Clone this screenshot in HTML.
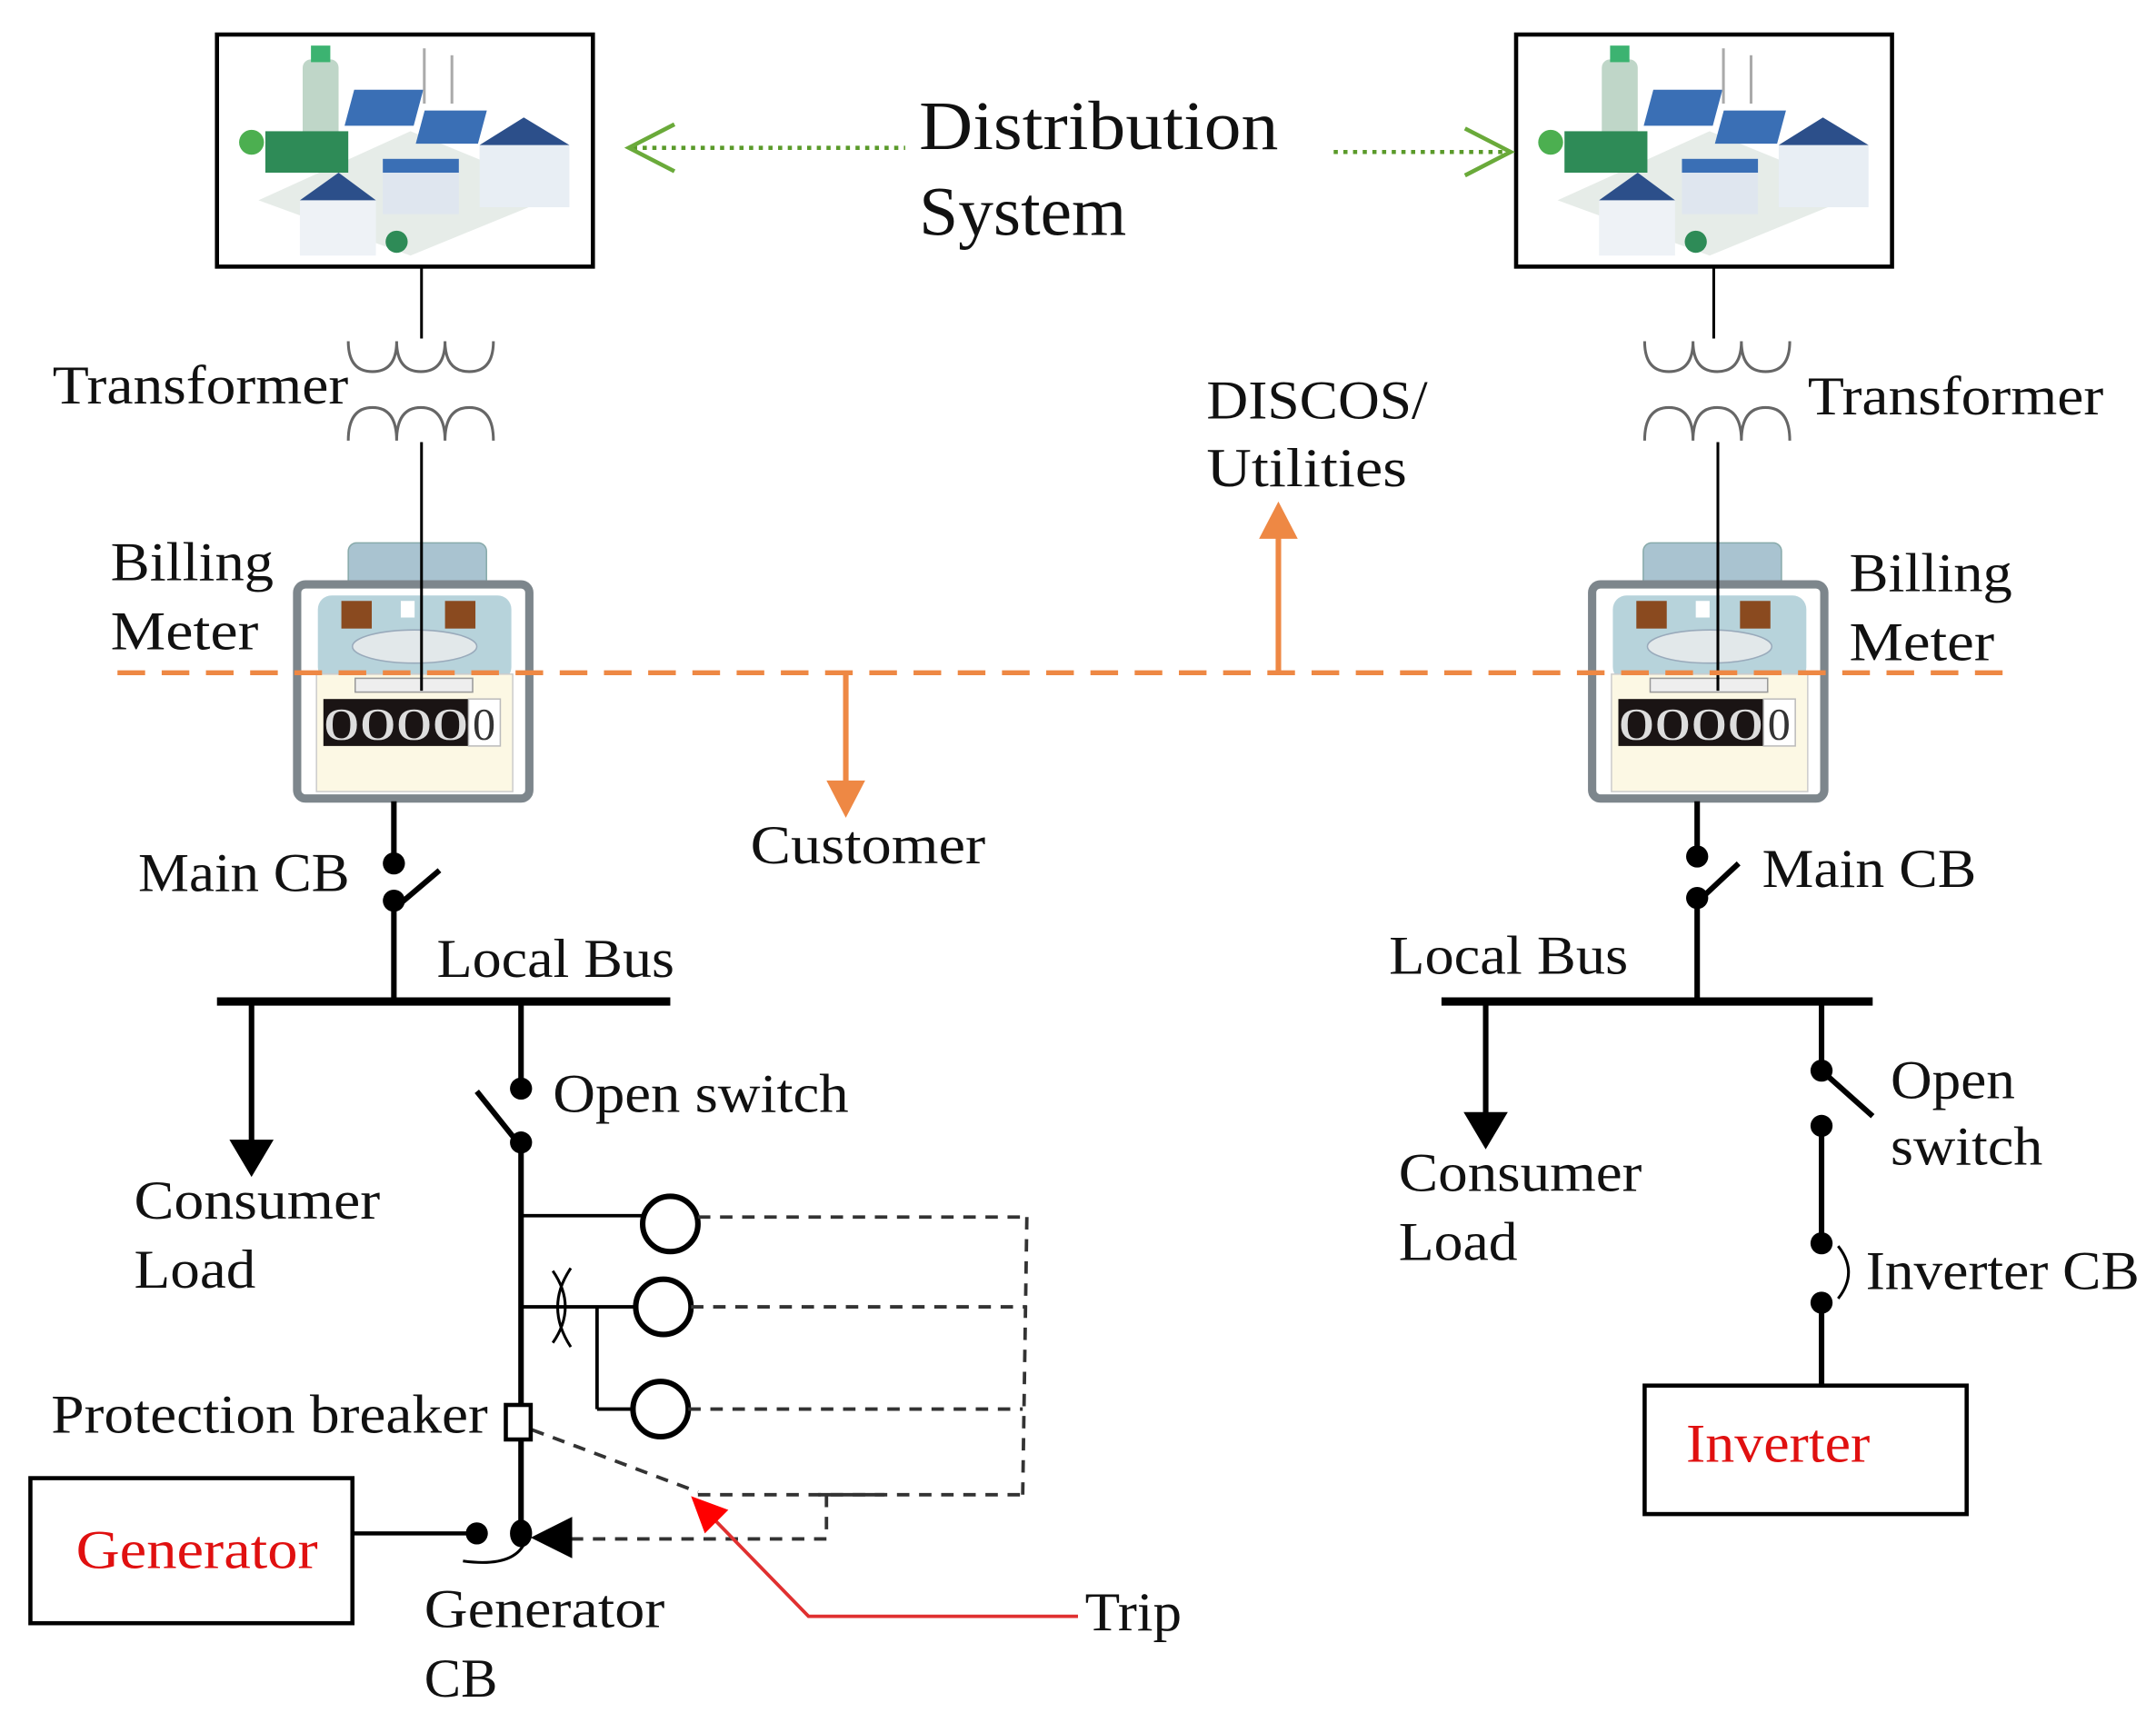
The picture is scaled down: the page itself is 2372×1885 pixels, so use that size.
<!DOCTYPE html>
<html><head><meta charset="utf-8"><style>
html,body{margin:0;padding:0;background:#fff}
svg{display:block}
text{font-family:"Liberation Serif",serif;fill:#111}
</style></head><body>
<svg width="2372" height="1885" viewBox="0 0 1560 1240" preserveAspectRatio="none" xmlns="http://www.w3.org/2000/svg">
<defs>
<g id="pic">
  <rect x="0" y="0" width="272" height="168" fill="#fff" stroke="#000" stroke-width="3"/>
  <path d="M30 120 L140 70 L250 115 L140 160 Z" fill="#e6ece8"/>
  <rect x="62" y="18" width="26" height="60" rx="6" fill="#bfd6c8"/>
  <rect x="68" y="8" width="14" height="12" fill="#3cb371"/>
  <rect x="35" y="70" width="60" height="30" fill="#2e8b57"/>
  <rect x="110" y="40" width="50" height="26" fill="#3a6fb5" transform="skewX(-15)"/>
  <rect x="165" y="55" width="45" height="24" fill="#3a6fb5" transform="skewX(-15)"/>
  <rect x="120" y="90" width="55" height="40" fill="#dfe6ef"/>
  <rect x="120" y="90" width="55" height="10" fill="#3a6fb5"/>
  <rect x="190" y="80" width="65" height="45" fill="#e8eef4"/>
  <path d="M190 80 L222 60 L255 80 Z" fill="#2c4f8a"/>
  <rect x="60" y="120" width="55" height="40" fill="#eef2f6"/>
  <path d="M60 120 L88 100 L115 120 Z" fill="#2c4f8a"/>
  <circle cx="25" cy="78" r="9" fill="#4caf50"/>
  <circle cx="130" cy="150" r="8" fill="#2e8b57"/>
  <line x1="150" y1="10" x2="150" y2="50" stroke="#aaa" stroke-width="2"/>
  <line x1="170" y1="15" x2="170" y2="50" stroke="#aaa" stroke-width="2"/>
</g>
<g id="meter">
  <rect x="40" y="0" width="100" height="45" rx="6" fill="#a9c3d0" stroke="#8aa" stroke-width="1"/>
  <rect x="3" y="30" width="168" height="155" rx="6" fill="#fff" stroke="#7d868c" stroke-width="6"/>
  <rect x="18" y="38" width="140" height="62" rx="10" fill="#b7d3db"/>
  <rect x="35" y="42" width="22" height="20" fill="#8a4a1f"/>
  <rect x="110" y="42" width="22" height="20" fill="#8a4a1f"/>
  <rect x="78" y="42" width="10" height="12" fill="#fff"/>
  <ellipse cx="88" cy="75" rx="45" ry="12" fill="#e2e8ea" stroke="#9ab"/>
  <rect x="17" y="95" width="142" height="85" fill="#fcf8e4" stroke="#ccc"/>
  <rect x="45" y="98" width="85" height="10" fill="#eee" stroke="#999"/>
  <rect x="22" y="113" width="105" height="34" fill="#1a1414"/>
  <rect x="127" y="113" width="23" height="34" fill="#fff" stroke="#bbb"/>
  <text x="22" y="142" font-size="33" font-family="Liberation Sans,sans-serif" style="fill:#ddd" textLength="105" lengthAdjust="spacingAndGlyphs">0000</text>
  <text x="130" y="142" font-size="33" font-family="Liberation Sans,sans-serif" style="fill:#333">0</text>
</g>
<g id="coil">
  <path d="M0 0 q0 22 17.5 22 q17.5 0 17.5 -22 q0 22 17.5 22 q17.5 0 17.5 -22 q0 22 17.5 22 q17.5 0 17.5 -22" fill="none" stroke="#666" stroke-width="2"/>
  <path d="M0 72 q0 -24 17.5 -24 q17.5 0 17.5 24 q0 -24 17.5 -24 q17.5 0 17.5 24 q0 -24 17.5 -24 q17.5 0 17.5 24" fill="none" stroke="#666" stroke-width="2"/>
</g>
</defs>

<use href="#pic" x="157" y="25"/>
<use href="#pic" x="1097" y="25"/>
<text x="665" y="108" font-size="50" textLength="260" lengthAdjust="spacingAndGlyphs">Distribution</text>
<text x="665" y="170" font-size="50" textLength="150" lengthAdjust="spacingAndGlyphs">System</text>
<line x1="458" y1="107" x2="655" y2="107" stroke="#5a9a2a" stroke-width="3" stroke-dasharray="3,4"/>
<path d="M488 90 L455 107 L488 124" fill="none" stroke="#6aaa3a" stroke-width="3"/>
<line x1="965" y1="110" x2="1090" y2="110" stroke="#5a9a2a" stroke-width="3" stroke-dasharray="3,4"/>
<path d="M1060 93 L1093 110 L1060 127" fill="none" stroke="#6aaa3a" stroke-width="3"/>

<line x1="305" y1="193" x2="305" y2="245" stroke="#000" stroke-width="2"/>
<use href="#coil" x="252" y="247"/>
<text x="38" y="292" font-size="40" textLength="214" lengthAdjust="spacingAndGlyphs">Transformer</text>
<use href="#meter" x="212" y="393"/>
<line x1="305" y1="320" x2="305" y2="500" stroke="#000" stroke-width="2"/>
<text x="80" y="420" font-size="40" textLength="118" lengthAdjust="spacingAndGlyphs">Billing</text>
<text x="80" y="470" font-size="40" textLength="107" lengthAdjust="spacingAndGlyphs">Meter</text>

<line x1="1240" y1="193" x2="1240" y2="245" stroke="#000" stroke-width="2"/>
<use href="#coil" x="1190" y="247"/>
<use href="#meter" x="1149" y="393"/>
<line x1="1243" y1="320" x2="1243" y2="500" stroke="#000" stroke-width="2"/>
<text x="1308" y="300" font-size="40" textLength="214" lengthAdjust="spacingAndGlyphs">Transformer</text>
<text x="1338" y="428" font-size="40" textLength="118" lengthAdjust="spacingAndGlyphs">Billing</text>
<text x="1338" y="478" font-size="40" textLength="105" lengthAdjust="spacingAndGlyphs">Meter</text>

<line x1="85" y1="487" x2="1460" y2="487" stroke="#ee8844" stroke-width="3.5" stroke-dasharray="20,12"/>
<line x1="612" y1="487" x2="612" y2="570" stroke="#ee8844" stroke-width="4"/>
<path d="M598 565 L626 565 L612 592 Z" fill="#ee8844"/>
<line x1="925" y1="487" x2="925" y2="385" stroke="#ee8844" stroke-width="4"/>
<path d="M911 390 L939 390 L925 363 Z" fill="#ee8844"/>
<text x="543" y="625" font-size="40" textLength="170" lengthAdjust="spacingAndGlyphs">Customer</text>
<text x="873" y="303" font-size="40" textLength="160" lengthAdjust="spacingAndGlyphs">DISCOS/</text>
<text x="873" y="352" font-size="40" textLength="145" lengthAdjust="spacingAndGlyphs">Utilities</text>

<g stroke="#000" stroke-width="4" fill="none">
<line x1="285" y1="580" x2="285" y2="622"/>
<line x1="285" y1="658" x2="318" y2="630"/>
<line x1="285" y1="655" x2="285" y2="725"/>
<line x1="157" y1="725" x2="485" y2="725" stroke-width="6"/>
<line x1="182" y1="725" x2="182" y2="830"/>
<line x1="377" y1="725" x2="377" y2="785"/>
<line x1="345" y1="790" x2="377" y2="830"/>
<line x1="377" y1="826" x2="377" y2="1110"/>
</g>
<circle cx="285" cy="625" r="8"/><circle cx="285" cy="652" r="8"/>
<path d="M166 825 L198 825 L182 852 Z"/>
<circle cx="377" cy="788" r="8"/><circle cx="377" cy="827" r="8"/>
<text x="100" y="645" font-size="40" textLength="153" lengthAdjust="spacingAndGlyphs">Main CB</text>
<text x="316" y="707" font-size="40" textLength="172" lengthAdjust="spacingAndGlyphs">Local Bus</text>
<text x="97" y="882" font-size="40" textLength="178" lengthAdjust="spacingAndGlyphs">Consumer</text>
<text x="97" y="932" font-size="40" textLength="88" lengthAdjust="spacingAndGlyphs">Load</text>
<text x="400" y="805" font-size="40" textLength="214" lengthAdjust="spacingAndGlyphs">Open switch</text>

<g stroke="#000" stroke-width="2.5" fill="none">
<line x1="377" y1="880" x2="465" y2="880"/>
<ellipse cx="485" cy="886" rx="20" ry="20" stroke-width="4"/>
<line x1="377" y1="946" x2="460" y2="946"/>
<ellipse cx="480" cy="946" rx="20" ry="20" stroke-width="4"/>
<line x1="432" y1="946" x2="432" y2="1020"/>
<line x1="432" y1="1020" x2="458" y2="1020"/>
<ellipse cx="478" cy="1020" rx="20" ry="20" stroke-width="4"/>
<path d="M400 920 Q418 946 400 972 M413 918 Q394 946 413 975" stroke-width="2"/>
</g>
<g stroke="#333" stroke-width="2.5" stroke-dasharray="9,7" fill="none">
<line x1="505" y1="881" x2="745" y2="881"/>
<line x1="500" y1="946" x2="743" y2="946"/>
<line x1="498" y1="1020" x2="740" y2="1020"/>
<line x1="743" y1="881" x2="740" y2="1082"/>
<line x1="505" y1="1082" x2="740" y2="1082"/>
<line x1="598" y1="1082" x2="598" y2="1114"/>
<line x1="598" y1="1114" x2="410" y2="1114"/>
<line x1="385" y1="1035" x2="505" y2="1080"/>
</g>
<line x1="592" y1="1082" x2="640" y2="1082" stroke="#333" stroke-width="2.5"/>
<rect x="366" y="1017" width="18" height="25" fill="#fff" stroke="#000" stroke-width="3"/>
<path d="M384 1113 L414 1098 L414 1128 Z"/>
<text x="37" y="1037" font-size="40" textLength="316" lengthAdjust="spacingAndGlyphs">Protection breaker</text>

<rect x="22" y="1070" width="233" height="105" fill="#fff" stroke="#000" stroke-width="3"/>
<text x="55" y="1135" font-size="40" style="fill:#e01010" textLength="175" lengthAdjust="spacingAndGlyphs">Generator</text>
<line x1="255" y1="1110" x2="345" y2="1110" stroke="#000" stroke-width="3"/>
<circle cx="345" cy="1110" r="8"/><ellipse cx="377" cy="1110" rx="8" ry="10"/>
<path d="M335 1130 Q372 1135 380 1116" fill="none" stroke="#000" stroke-width="2"/>
<text x="307" y="1178" font-size="40" textLength="174" lengthAdjust="spacingAndGlyphs">Generator</text>
<text x="307" y="1228" font-size="40" textLength="53" lengthAdjust="spacingAndGlyphs">CB</text>

<path d="M780 1170 L585 1170 L515 1098" fill="none" stroke="#e03030" stroke-width="2.5"/>
<path d="M500 1083 L527 1093 L510 1110 Z" fill="#ff0000"/>
<text x="785" y="1180" font-size="40" textLength="70" lengthAdjust="spacingAndGlyphs">Trip</text>

<g stroke="#000" stroke-width="4" fill="none">
<line x1="1228" y1="580" x2="1228" y2="615"/>
<line x1="1226" y1="655" x2="1258" y2="625"/>
<line x1="1228" y1="650" x2="1228" y2="725"/>
<line x1="1043" y1="725" x2="1355" y2="725" stroke-width="6"/>
<line x1="1075" y1="725" x2="1075" y2="808"/>
<line x1="1318" y1="725" x2="1318" y2="772"/>
<line x1="1318" y1="775" x2="1355" y2="808"/>
<line x1="1318" y1="815" x2="1318" y2="900"/>
<line x1="1318" y1="943" x2="1318" y2="1003"/>
<path d="M1330 902 Q1345 921 1330 940" stroke-width="2"/>
</g>
<circle cx="1228" cy="620" r="8"/><circle cx="1228" cy="650" r="8"/>
<path d="M1059 805 L1091 805 L1075 832 Z"/>
<circle cx="1318" cy="775" r="8"/><circle cx="1318" cy="815" r="8"/>
<circle cx="1318" cy="900" r="8"/><circle cx="1318" cy="943" r="8"/>
<text x="1275" y="642" font-size="40" textLength="155" lengthAdjust="spacingAndGlyphs">Main CB</text>
<text x="1005" y="705" font-size="40" textLength="173" lengthAdjust="spacingAndGlyphs">Local Bus</text>
<text x="1012" y="862" font-size="40" textLength="176" lengthAdjust="spacingAndGlyphs">Consumer</text>
<text x="1012" y="912" font-size="40" textLength="86" lengthAdjust="spacingAndGlyphs">Load</text>
<text x="1368" y="795" font-size="40" textLength="90" lengthAdjust="spacingAndGlyphs">Open</text>
<text x="1368" y="843" font-size="40" textLength="110" lengthAdjust="spacingAndGlyphs">switch</text>
<text x="1350" y="933" font-size="40" textLength="198" lengthAdjust="spacingAndGlyphs">Inverter CB</text>
<rect x="1190" y="1003" width="233" height="93" fill="#fff" stroke="#000" stroke-width="3"/>
<text x="1220" y="1058" font-size="40" style="fill:#e01010" textLength="133" lengthAdjust="spacingAndGlyphs">Inverter</text>
</svg>
</body></html>
